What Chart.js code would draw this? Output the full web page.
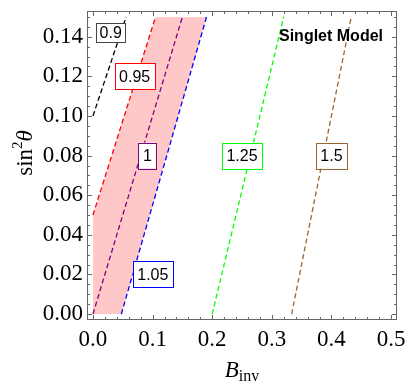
<!DOCTYPE html>
<html>
<head>
<meta charset="utf-8">
<script src="https://cdn.jsdelivr.net/npm/chart.js@4"></script>
<style>
  html, body { margin: 0; padding: 0; background: #fff; }
  #wrap { width: 409px; height: 386px; }
</style>
</head>
<body>
<div id="wrap"><canvas id="chart" width="409" height="386"></canvas></div>
<script>
// Contour levels and their end points
const levels = ['0.9', '0.95', '1', '1.05', '1.25', '1.5'];
const lineX = [[0, 0.0556], [0, 0.105], [0, 0.15], [0.0476, 0.1905], [0.2, 0.32], [0.3333, 0.4333]];
const lineY = [[0.1, 0.15], [0.05, 0.15], [0, 0.15], [0, 0.15], [0, 0.15], [0, 0.15]];

// Shaded band between the 0.95 and 1.05 lines
const bandX = [0, 0, 0.105, 0.1905, 0.0476];
const bandY = [0, 0.05, 0.15, 0.15, 0];

// Where each level label sits
const labelX = [0.0298, 0.070, 0.0912, 0.1004, 0.250, 0.400];
const labelY = [0.142, 0.120, 0.080, 0.020, 0.080, 0.080];

const xTicks = [0, 0.1, 0.2, 0.3, 0.4, 0.5];
const yTicks = [0, 0.02, 0.04, 0.06, 0.08, 0.10, 0.12, 0.14];

const colors = ['#000000', '#ff0000', '#800080', '#0000ff', '#00ff00', '#996633'];
const serif = "'Liberation Serif', 'Times New Roman', serif";

const datasets = levels.map((lv, i) => ({
    label: lv,
    data: lineX[i].map((x, j) => ({ x: x, y: lineY[i][j] })),
    showLine: true,
    borderColor: colors[i],
    borderWidth: 1.3,
    borderDash: [5, 3],
    pointRadius: 0,
    fill: false,
    order: 1
}));

datasets.push({
    label: 'band',
    data: bandX.map((x, j) => ({ x: x, y: bandY[j] })),
    showLine: true,
    borderWidth: 0,
    borderColor: 'rgba(0,0,0,0)',
    backgroundColor: 'rgb(255,200,200)',
    pointRadius: 0,
    fill: 'shape',
    order: 10
});

// Frame, inward ticks, level labels and axis titles
const decorations = {
    id: 'decorations',
    afterDatasetsDraw(chart) {
        const ctx = chart.ctx;
        const xs = chart.scales.x, ys = chart.scales.y;
        ctx.save();
        ctx.font = "16px 'Liberation Sans', Arial, sans-serif";
        ctx.textAlign = 'center';
        ctx.textBaseline = 'middle';
        levels.forEach((lv, i) => {
            const px = xs.getPixelForValue(labelX[i]);
            const py = ys.getPixelForValue(labelY[i]);
            const w = ctx.measureText(lv).width + (i === 0 ? 7 : 9);
            const h = i === 0 ? 19 : 26;
            ctx.fillStyle = '#fff';
            ctx.fillRect(px - w / 2, py - h / 2, w, h);
            ctx.strokeStyle = i === 0 ? '#444' : colors[i];
            ctx.lineWidth = 1;
            ctx.strokeRect(Math.round(px - w / 2) + 0.5, Math.round(py - h / 2) + 0.5, Math.round(w), h);
            ctx.fillStyle = '#000';
            ctx.fillText(lv, px, py + 1);
        });
        ctx.restore();
    },
    afterDraw(chart) {
        const ctx = chart.ctx;
        const a = chart.chartArea;
        const xs = chart.scales.x, ys = chart.scales.y;
        ctx.save();
        ctx.strokeStyle = '#666';
        ctx.lineWidth = 1;
        ctx.strokeRect(a.left + 0.5, a.top + 0.5, a.right - a.left - 1, a.bottom - a.top - 1);
        ctx.beginPath();
        for (let k = 0; k <= 25; k++) {
            const v = k * 0.02;
            const len = k % 5 === 0 ? 5 : 3;
            const px = Math.round(xs.getPixelForValue(v)) + 0.5;
            ctx.moveTo(px, a.bottom); ctx.lineTo(px, a.bottom - len);
            ctx.moveTo(px, a.top); ctx.lineTo(px, a.top + len);
        }
        for (let k = 0; k <= 30; k++) {
            const v = k * 0.005;
            const len = k % 4 === 0 ? 5 : 3;
            const py = Math.round(ys.getPixelForValue(v)) + 0.5;
            ctx.moveTo(a.left, py); ctx.lineTo(a.left + len, py);
            ctx.moveTo(a.right, py); ctx.lineTo(a.right - len, py);
        }
        ctx.stroke();

        // Model name
        ctx.fillStyle = '#000';
        ctx.font = "bold 16px 'Liberation Sans', Arial, sans-serif";
        ctx.textAlign = 'center';
        ctx.textBaseline = 'middle';
        ctx.fillText('Singlet Model', 331, 37);

        // x title: B_inv
        ctx.textAlign = 'left';
        ctx.textBaseline = 'alphabetic';
        ctx.font = 'italic 23px ' + serif;
        const wB = ctx.measureText('B').width;
        ctx.font = '16px ' + serif;
        const wSub = ctx.measureText('inv').width;
        let x0 = 242 - (wB + wSub) / 2;
        ctx.font = 'italic 23px ' + serif;
        ctx.fillText('B', x0, 377);
        ctx.font = '16px ' + serif;
        ctx.fillText('inv', x0 + wB, 381);

        // y title: sin^2 theta
        ctx.translate(32, 153);
        ctx.rotate(-Math.PI / 2);
        ctx.font = '23px ' + serif;
        const wSin = ctx.measureText('sin').width;
        ctx.font = '15px ' + serif;
        const w2 = ctx.measureText('2').width;
        ctx.font = 'italic 23px ' + serif;
        const wT = ctx.measureText('θ').width;
        let s = -(wSin + w2 + wT) / 2;
        ctx.font = '23px ' + serif;
        ctx.fillText('sin', s, 0);
        ctx.font = '15px ' + serif;
        ctx.fillText('2', s + wSin, -10);
        ctx.font = 'italic 23px ' + serif;
        ctx.fillText('θ', s + wSin + w2, 0);
        ctx.restore();
    }
};

new Chart(document.getElementById('chart'), {
    type: 'scatter',
    data: { datasets: datasets },
    options: {
        responsive: false,
        animation: false,
        layout: { padding: { top: 11, right: 12, left: 0, bottom: 0 } },
        plugins: { legend: { display: false }, tooltip: { enabled: false } },
        scales: {
            x: {
                type: 'linear',
                min: -0.01,
                max: 0.51,
                grid: { display: false, drawTicks: false },
                border: { display: false },
                ticks: {
                    padding: 6,
                    color: '#000',
                    font: { family: serif, size: 23 },
                    callback: v => v.toFixed(1)
                },
                afterBuildTicks: s => { s.ticks = xTicks.map(v => ({ value: v })); },
                afterFit: s => {
                    s.height = 66;
                    s.paddingLeft = 0; s.paddingRight = 0;
                }
            },
            y: {
                type: 'linear',
                min: -0.003,
                max: 0.153,
                grid: { display: false, drawTicks: false },
                border: { display: false },
                ticks: {
                    padding: 4,
                    color: '#000',
                    font: { family: serif, size: 23 },
                    callback: v => v.toFixed(2)
                },
                afterBuildTicks: s => { s.ticks = yTicks.map(v => ({ value: v })); },
                afterFit: s => {
                    s.width = 87;
                    s.paddingTop = 0; s.paddingBottom = 0;
                }
            }
        }
    },
    plugins: [decorations]
});
</script>
</body>
</html>
